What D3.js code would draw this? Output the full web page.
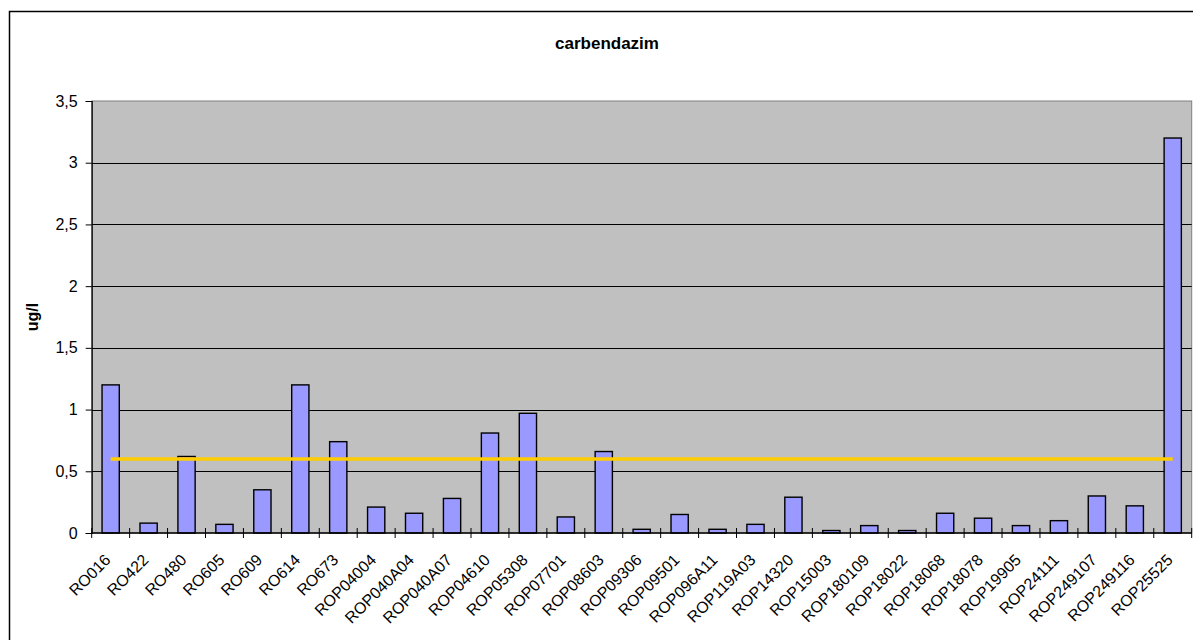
<!DOCTYPE html>
<html>
<head>
<meta charset="utf-8">
<script src="https://cdn.jsdelivr.net/npm/d3@7"></script>
<style>
  html, body { margin: 0; padding: 0; background: #fff; }
  svg { display: block; font-family: "Liberation Sans", Arial, sans-serif; }
</style>
</head>
<body>
<svg id="chart" width="1193" height="640"></svg>
<script>
const categories = ["RO016","RO422","RO480","RO605","RO609","RO614","RO673","ROP04004","ROP040A04","ROP040A07","ROP04610","ROP05308","ROP07701","ROP08603","ROP09306","ROP09501","ROP096A11","ROP119A03","ROP14320","ROP15003","ROP180109","ROP18022","ROP18068","ROP18078","ROP19905","ROP24111","ROP249107","ROP249116","ROP25525"];
const values = [1.2,0.08,0.62,0.07,0.35,1.2,0.74,0.21,0.16,0.28,0.81,0.97,0.13,0.66,0.03,0.15,0.03,0.07,0.29,0.02,0.06,0.02,0.16,0.12,0.06,0.1,0.3,0.22,3.2];
const limitValue = 0.6;
const yTicks = [0,0.5,1,1.5,2,2.5,3,3.5];
const title = "carbendazim";
const yLabel = "ug/l";

const svg = d3.select("#chart");
const plot = {left: 91.7, right: 1191.7, top: 101, bottom: 533};

// outer chart frame
svg.append("rect").attr("x", 9.5).attr("y", 11.5).attr("width", 1196).attr("height", 640)
  .attr("fill", "#fff").attr("stroke", "#000").attr("stroke-width", 1.5);

const x = d3.scaleBand().domain(categories).range([plot.left, plot.right]).paddingInner(0.5455).paddingOuter(0.2727);
const xOuter = d3.scaleBand().domain(categories).range([plot.left, plot.right]);
const y = d3.scaleLinear().domain([0, 3.5]).range([plot.bottom, plot.top]);

// plot area
svg.append("rect").attr("x", plot.left).attr("y", plot.top)
  .attr("width", plot.right - plot.left).attr("height", plot.bottom - plot.top)
  .attr("fill", "#C0C0C0").attr("stroke", "#808080").attr("stroke-width", 1);

// gridlines
svg.append("g").selectAll("line").data(yTicks.filter(d => d > 0 && d < 3.5)).join("line")
  .attr("x1", plot.left).attr("x2", plot.right)
  .attr("y1", d => Math.round(y(d)) + 0.5).attr("y2", d => Math.round(y(d)) + 0.5)
  .attr("stroke", "#000").attr("stroke-width", 1);

// bars
svg.append("g").selectAll("rect").data(values).join("rect")
  .attr("x", (d, i) => x(categories[i]))
  .attr("width", x.bandwidth())
  .attr("y", d => y(d))
  .attr("height", d => y(0) - y(d))
  .attr("fill", "#9999FF").attr("stroke", "#000").attr("stroke-width", 1.4);

// y axis
const yAxis = d3.axisLeft(y).tickValues(yTicks).tickSize(6).tickPadding(8)
  .tickFormat(d => String(d).replace(".", ","));
const gy = svg.append("g").attr("transform", `translate(${plot.left},0)`).call(yAxis);
gy.select(".domain").attr("stroke", "#000").attr("stroke-width", 1.2);
gy.selectAll("text").attr("font-size", 16).attr("fill", "#000")
  .attr("font-family", "Liberation Sans, Arial, sans-serif");

// x axis baseline + ticks at category boundaries
svg.append("line").attr("x1", plot.left).attr("x2", plot.right)
  .attr("y1", plot.bottom).attr("y2", plot.bottom).attr("stroke", "#000").attr("stroke-width", 1.4);
const boundaries = categories.map(c => xOuter(c)).concat([plot.right]);
svg.append("g").selectAll("line").data(boundaries).join("line")
  .attr("x1", d => d).attr("x2", d => d)
  .attr("y1", plot.bottom - 5).attr("y2", plot.bottom + 5)
  .attr("stroke", "#000").attr("stroke-width", 1);

// x labels
svg.append("g").selectAll("text").data(categories).join("text")
  .attr("transform", d => `translate(${xOuter(d) + xOuter.bandwidth() / 2 + 1},${plot.bottom + 28}) rotate(-45)`)
  .attr("text-anchor", "end")
  .attr("font-size", 16).attr("fill", "#000")
  .text(d => d);

// limit line
const first = categories[0], last = categories[categories.length - 1];
svg.append("line")
  .attr("x1", xOuter(first) + xOuter.bandwidth() / 2)
  .attr("x2", xOuter(last) + xOuter.bandwidth() / 2)
  .attr("y1", y(limitValue)).attr("y2", y(limitValue))
  .attr("stroke", "#FFCC00").attr("stroke-width", 3.5);

// title
svg.append("text").attr("x", 607).attr("y", 49).attr("text-anchor", "middle")
  .attr("font-size", 17).attr("font-weight", "bold").text(title);

// y label
svg.append("text").attr("transform", `translate(38,317) rotate(-90)`)
  .attr("text-anchor", "middle").attr("font-size", 16).attr("font-weight", "bold").text(yLabel);
</script>
</body>
</html>
